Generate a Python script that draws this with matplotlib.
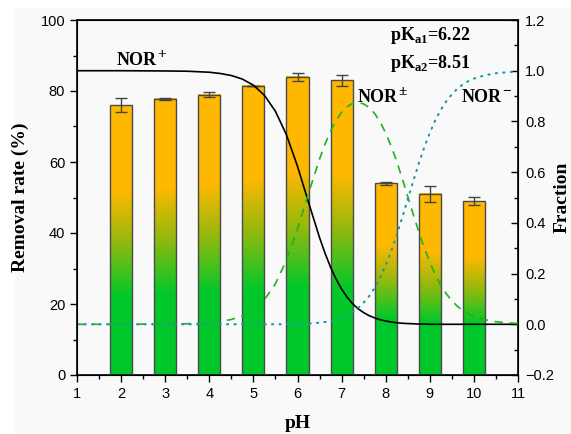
import numpy as np
import matplotlib.pyplot as plt
from matplotlib.colors import LinearSegmentedColormap
from matplotlib.patches import Rectangle

# removal rate bars
ph_bars = [2, 3, 4, 5, 6, 7, 8, 9, 10]
removal = [76.0, 77.8, 79.0, 81.5, 84.0, 83.0, 54.0, 51.0, 49.0]
removal_err = [2.0, 0.3, 0.7, 0.0, 1.2, 1.5, 0.4, 2.2, 1.2]

# species fractions
ph_curve = [1, 2, 3, 3.5, 4, 4.25, 4.5, 4.75, 5, 5.25, 5.5, 5.75, 6, 6.25,
            6.5, 6.625, 6.75, 6.875, 7, 7.125, 7.25, 7.375, 7.5, 7.625, 7.75,
            7.875, 8, 8.125, 8.25, 8.375, 8.5, 8.625, 8.75, 8.875, 9, 9.125,
            9.25, 9.375, 9.5, 9.625, 9.75, 9.875, 10, 10.25, 10.5, 10.75, 11]
frac_cation = [1.000, 1.000, 0.999, 0.998, 0.994, 0.989, 0.981, 0.967, 0.943,
               0.903, 0.840, 0.747, 0.623, 0.481, 0.342, 0.280, 0.225, 0.178,
               0.139, 0.107, 0.081, 0.061, 0.046, 0.034, 0.025, 0.018, 0.013,
               0.009, 0.006, 0.004, 0.003, 0.002, 0.001, 0.001, 0.000, 0.000,
               0.000, 0.000, 0.000, 0.000, 0.000, 0.000, 0.000, 0.000, 0.000,
               0.000, 0.000]
frac_zwitter = [0.000, 0.000, 0.001, 0.002, 0.006, 0.011, 0.019, 0.033, 0.057,
                0.097, 0.160, 0.253, 0.376, 0.516, 0.652, 0.711, 0.762, 0.804,
                0.836, 0.858, 0.871, 0.875, 0.869, 0.855, 0.831, 0.798, 0.754,
                0.702, 0.642, 0.575, 0.504, 0.433, 0.365, 0.301, 0.244, 0.195,
                0.154, 0.120, 0.093, 0.071, 0.054, 0.041, 0.031, 0.018, 0.010,
                0.006, 0.003]
frac_anion = [0.000, 0.000, 0.000, 0.000, 0.000, 0.000, 0.000, 0.000, 0.000,
              0.000, 0.000, 0.000, 0.001, 0.003, 0.006, 0.009, 0.013, 0.019,
              0.026, 0.035, 0.048, 0.064, 0.085, 0.111, 0.144, 0.185, 0.233,
              0.289, 0.352, 0.421, 0.493, 0.565, 0.634, 0.698, 0.755, 0.805,
              0.846, 0.880, 0.907, 0.929, 0.946, 0.959, 0.969, 0.982, 0.990,
              0.994, 0.997]

plt.rcParams['mathtext.fontset'] = 'custom'
plt.rcParams['mathtext.rm'] = 'Liberation Serif'
plt.rcParams['mathtext.bf'] = 'Liberation Serif:bold'

bg = '#f9f9f9'
fig = plt.figure(figsize=(5.71, 4.34), dpi=100, facecolor=bg)
fig.add_artist(Rectangle((0, 0), 14 / 571, 1, transform=fig.transFigure,
                         color='white', zorder=-1))
fig.add_artist(Rectangle((0, 1 - 7 / 434), 1, 7 / 434, transform=fig.transFigure,
                         color='white', zorder=-1))
ax1 = fig.add_axes([77 / 571, 59 / 434, 441 / 571, 355 / 434])
ax1.set_facecolor(bg)

cmap = LinearSegmentedColormap.from_list(
    'grad', [(0, '#00c82a'), (0.29, '#00c82a'), (0.5, '#98b80e'),
             (0.68, '#ffb800'), (1, '#ffb800')])
grad = np.linspace(0, 1, 256).reshape(-1, 1)
w = 0.5
for x, h in zip(ph_bars, removal):
    ax1.imshow(grad, cmap=cmap, origin='lower', aspect='auto',
               extent=[x - w / 2, x + w / 2, 0, h], zorder=2)
ax1.bar(ph_bars, removal, width=w, fill=False, edgecolor='#4a4a4a',
        linewidth=1.0, zorder=3)
ax1.errorbar(ph_bars, removal, yerr=removal_err, fmt='none', ecolor='#444444',
             elinewidth=1.0, capsize=4, capthick=1.0, zorder=4)

ax1.set_xlim(1, 11)
ax1.set_ylim(0, 100)
ax1.set_xticks(range(1, 12))
ax1.set_xticks(np.arange(1.5, 11, 1), minor=True)
ax1.set_yticks(range(0, 101, 20))
ax1.set_yticks(range(10, 100, 20), minor=True)
ax1.tick_params(which='both', direction='out', top=False, right=False,
                labelsize=10.5, width=1.0)
ax1.tick_params(which='major', length=5)
ax1.tick_params(which='minor', length=3)
for lab in ax1.get_xticklabels() + ax1.get_yticklabels():
    lab.set_fontfamily('Liberation Sans')
ax1.set_xlabel('pH', fontsize=14, fontweight='bold', family='Liberation Serif',
               labelpad=10)
ax1.set_ylabel('Removal rate (%)', fontsize=14, fontweight='bold',
               family='Liberation Serif', labelpad=8)

ax2 = ax1.twinx()
ax2.plot(ph_curve, frac_cation, color='black', linewidth=1.2)
ax2.plot(ph_curve, frac_zwitter, color='#1db31d', linewidth=1.2,
         linestyle=(0, (5, 4)))
ax2.plot(ph_curve, frac_anion, color='#1a9aa6', linewidth=1.5,
         linestyle=(0, (0.6, 3.0)), dash_capstyle='round')
ax2.set_ylim(-0.2, 1.2)
ax2.set_yticks(np.arange(-0.2, 1.21, 0.2))
ax2.set_yticks(np.arange(-0.1, 1.2, 0.2), minor=True)
ax2.set_yticklabels(['\u22120.2', '0.0', '0.2', '0.4', '0.6', '0.8', '1.0',
                     '1.2'], family='Liberation Sans')
ax2.tick_params(which='both', direction='in', labelsize=10.5, width=1.0, pad=5)
ax2.tick_params(which='major', length=5)
ax2.tick_params(which='minor', length=3)
ax2.set_ylabel('Fraction', fontsize=14, fontweight='bold',
               family='Liberation Serif', labelpad=0)
for sp in ax1.spines.values():
    sp.set_linewidth(1.2)

txt = dict(fontsize=13, fontweight='bold', family='Liberation Serif',
           va='baseline', ha='left', zorder=6)
sup = dict(fontsize=11, fontweight='bold', family='Liberation Serif',
           va='bottom', ha='left', zorder=6)
for x, y, s in [(1.9, 87.3, '+'), (7.37, 77.0, '\u00b1'), (9.72, 77.0, '\u2212')]:
    t = ax1.text(x, y, 'NOR', **txt)
    ax1.annotate(s, xy=(1.0, 0.45), xycoords=t, xytext=(0.5, 0),
                 textcoords='offset points', **sup)
ax1.text(8.1, 94.4, 'pK$_{\\mathbf{a1}}$=6.22', **txt)
ax1.text(8.1, 86.5, 'pK$_{\\mathbf{a2}}$=8.51', **txt)

plt.savefig('out.png', dpi=100, facecolor=bg)
